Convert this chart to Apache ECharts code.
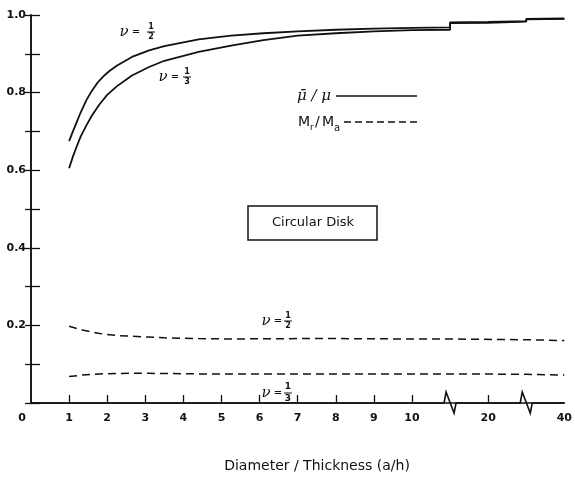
<!DOCTYPE html>
<html><head><meta charset="utf-8">
<script src="https://cdn.jsdelivr.net/npm/echarts@6/dist/echarts.min.js"></script>
<style>html,body{margin:0;padding:0;background:#fff}#c{width:575px;height:479px}</style>
</head><body><div id="c"></div>
<script>
// Diameter / Thickness (a/h). The axis is broken between 11–19 and 21–39.
const muX_half  = [1, 1.1, 1.2, 1.3, 1.45, 1.6, 1.75, 1.9, 2.05, 2.25, 2.65, 3.1, 3.5, 4.4, 5.25, 6.1, 7, 8, 9, 10, 11, 19, 20, 21, 39, 40];
const muY_half  = [0.675, 0.70, 0.724, 0.748, 0.780, 0.805, 0.826, 0.842, 0.855, 0.869, 0.892, 0.909, 0.920, 0.937, 0.947, 0.953, 0.958, 0.962, 0.965, 0.967, 0.968, 0.981, 0.982, 0.984, 0.990, 0.991];
const muX_third = [1, 1.1, 1.2, 1.3, 1.45, 1.6, 1.8, 2, 2.25, 2.65, 3.1, 3.5, 4.4, 5.25, 6.1, 7, 8, 9, 10, 11, 19, 20, 21, 39, 40];
const muY_third = [0.605, 0.635, 0.661, 0.686, 0.715, 0.741, 0.770, 0.794, 0.816, 0.844, 0.866, 0.882, 0.905, 0.921, 0.935, 0.947, 0.953, 0.958, 0.961, 0.962, 0.979, 0.980, 0.983, 0.989, 0.990];
const mX        = [1, 1.35, 1.8, 2.25, 2.65, 3.1, 3.5, 4.4, 5.25, 7, 8, 10, 11, 19, 21, 39, 40];
const mY_half   = [0.198, 0.188, 0.179, 0.174, 0.172, 0.170, 0.168, 0.166, 0.165, 0.166, 0.166, 0.165, 0.165, 0.164, 0.163, 0.162, 0.161];
const mY_third  = [0.068, 0.072, 0.075, 0.076, 0.0765, 0.0765, 0.076, 0.075, 0.075, 0.075, 0.075, 0.075, 0.075, 0.075, 0.074, 0.073, 0.072];
const xTickValues  = [1, 2, 3, 4, 5, 6, 7, 8, 9, 10, 20];
const xLabelValues = [0, 1, 2, 3, 4, 5, 6, 7, 8, 9, 10, 20, 40];
const yLabelValues = [0.2, 0.4, 0.6, 0.8, 1.0];

// broken-axis position: breaks 11..19 and 21..39 collapse to zero width
function pos(x) {
  if (x <= 11) return x;
  if (x < 19) return 11;
  if (x <= 21) return x - 8;
  if (x < 39) return 13;
  return x - 26;
}
const pts = (xs, ys) => ys.map((y, i) => [pos(xs[i]), y]);
const labelOf = {};
xLabelValues.forEach(v => { labelOf[pos(v)] = String(v); });

const INK = '#111';
const tickFont = { color: INK, fontFamily: 'DejaVu Sans', fontWeight: 'bold', fontSize: 11 };

const chart = echarts.init(document.getElementById('c'), null, { renderer: 'canvas' });
const option = {
  animation: false,
  backgroundColor: '#fff',
  grid: { left: 31, right: 7, top: 15, bottom: 76, containLabel: false },
  xAxis: [{
    type: 'value', min: 0, max: 14, interval: 1,
    axisLine: { show: false },
    axisTick: { show: true, inside: true, length: 8, lineStyle: { color: INK, width: 1.3 }, customValues: xTickValues.map(pos) },
    axisLabel: {
      show: true, margin: 10, ...tickFont,
      customValues: xLabelValues.map(pos),
      formatter: v => v === 0 ? '{z|0}' : (labelOf[v] || ''),
      rich: { z: { ...tickFont, padding: [0, 18, 0, 0] } }
    },
    splitLine: { show: false }
  }, {
    type: 'value', position: 'top', min: 0, max: 14,
    axisLine: { show: true, lineStyle: { color: INK, width: 1.5 } },
    axisTick: { show: false }, axisLabel: { show: false }, splitLine: { show: false }
  }],
  yAxis: [{
    type: 'value', min: 0, max: 1, interval: 0.1,
    axisLine: { show: true, lineStyle: { color: INK, width: 1.5 } },
    axisTick: { show: true, inside: true, length: 9, lineStyle: { color: INK, width: 1.3 } },
    axisLabel: { show: true, margin: 5, ...tickFont, customValues: yLabelValues, formatter: v => v.toFixed(1) },
    splitLine: { show: false }
  }, {
    type: 'value', position: 'right', min: 0, max: 1, interval: 0.1,
    axisLine: { show: true, lineStyle: { color: INK, width: 1.5 } },
    axisTick: { show: true, inside: true, length: 6, lineStyle: { color: INK, width: 1.3 } },
    axisLabel: { show: false }, splitLine: { show: false }
  }],
  series: [
    { name: 'mu ν=1/2', type: 'line', data: pts(muX_half, muY_half), symbol: 'none', lineStyle: { color: INK, width: 1.8 } },
    { name: 'mu ν=1/3', type: 'line', data: pts(muX_third, muY_third), symbol: 'none', lineStyle: { color: INK, width: 1.8 } },
    { name: 'M ν=1/2', type: 'line', data: pts(mX, mY_half), symbol: 'none', lineStyle: { color: INK, width: 1.5, type: [8, 5] } },
    { name: 'M ν=1/3', type: 'line', data: pts(mX, mY_third), symbol: 'none', lineStyle: { color: INK, width: 1.5, type: [8, 5] } }
  ]
};
chart.setOption(option);

const P = (x, y) => chart.convertToPixel({ xAxisIndex: 0, yAxisIndex: 0 }, [x, y]);
const [x0, yb] = P(0, 0);
const [xe] = P(14, 0);
const [b1] = P(11, 0);
const [b2] = P(13, 0);
const zig = c => [[c - 6, yb], [c - 4, yb - 11], [c + 4, yb + 10], [c + 6, yb]];
const axisPts = [[x0, yb], ...zig(b1), ...zig(b2), [xe, yb]];

function t(x, y, text, font, align) {
  return { type: 'text', x, y, style: { text, font, fill: INK, align: align || 'center', verticalAlign: 'middle' } };
}
function nuLabel(cx, cy, den, fx, fs, gap) {
  return [
    t(cx, cy, 'ν', 'italic 15px "DejaVu Serif"'),
    t(cx + 12, cy, '=', '10px "DejaVu Sans"'),
    t(fx, cy - gap, '1', 'bold ' + fs + 'px "DejaVu Sans"'),
    { type: 'line', shape: { x1: fx - 4, y1: cy, x2: fx + 4, y2: cy }, style: { stroke: INK, lineWidth: 1 } },
    t(fx, cy + gap, den, 'bold ' + fs + 'px "DejaVu Sans"')
  ];
}

chart.setOption({
  graphic: [
    { type: 'polyline', shape: { points: axisPts }, style: { stroke: INK, lineWidth: 1.6, fill: null } },
    ...nuLabel(124, 32, '2', 151, 8, 5),
    ...nuLabel(163, 77, '3', 187, 8, 5),
    ...nuLabel(266, 321, '2', 288, 8, 5),
    ...nuLabel(266, 393, '3', 288, 9, 6),
    t(297, 96, 'μ̄ / μ', 'italic 15px "DejaVu Serif"', 'left'),
    { type: 'line', shape: { x1: 336, y1: 96, x2: 417, y2: 96 }, style: { stroke: INK, lineWidth: 1.5 } },
    t(298, 122, 'M', '14px "DejaVu Sans"', 'left'),
    t(310, 128, 'r', '9px "DejaVu Sans"', 'left'),
    t(315, 122, '/', '14px "DejaVu Sans"', 'left'),
    t(322, 122, 'M', '14px "DejaVu Sans"', 'left'),
    t(334, 128, 'a', '10px "DejaVu Sans"', 'left'),
    { type: 'line', shape: { x1: 344, y1: 122, x2: 417, y2: 122 }, style: { stroke: INK, lineWidth: 1.4, lineDash: [7, 4] } },
    { type: 'rect', shape: { x: 248, y: 206, width: 129, height: 34 }, style: { stroke: INK, lineWidth: 1.5, fill: null } },
    t(313, 223, 'Circular Disk', '13px "DejaVu Sans"'),
    t(317, 466, 'Diameter / Thickness (a/h)', '14px "DejaVu Sans"')
  ]
});
</script>
</body></html>
